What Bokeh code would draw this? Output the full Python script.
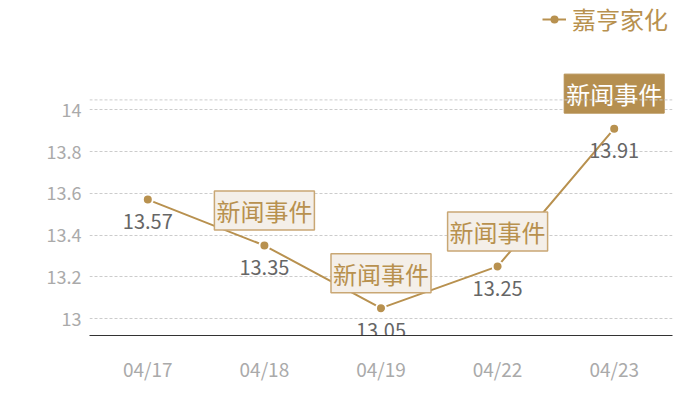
from bokeh.plotting import figure
from bokeh.models import Span, Legend, LegendItem, ColumnDataSource, FixedTicker, NumeralTickFormatter
from bokeh.core.properties import value
from bokeh.embed import file_html
from bokeh.resources import INLINE

dates = ["04/17", "04/18", "04/19", "04/22", "04/23"]
prices = [13.57, 13.35, 13.05, 13.25, 13.91]
price_labels = ["13.57", "13.35", "13.05", "13.25", "13.91"]
event_dates = ["04/18", "04/19", "04/22"]
event_prices = [13.35, 13.05, 13.25]
highlight_dates = ["04/23"]
highlight_prices = [13.91]
event_label = "新闻事件"
y_ticks = [13, 13.2, 13.4, 13.6, 13.8, 14]
y_axis_max = 14.0476
series_name = "嘉亨家化"

GOLD = "#b8914f"
FONT = "Noto Sans CJK SC"

p = figure(width=684, height=384, x_range=dates, y_range=(12.919, 14.5238),
           output_backend="svg", toolbar_location=None,
           min_border_left=89, min_border_right=12, min_border_top=0, min_border_bottom=47)
p.outline_line_color = None
p.background_fill_color = "white"
p.border_fill_color = "white"

p.xgrid.grid_line_color = None
p.ygrid.grid_line_color = "#cccccc"
p.ygrid.grid_line_dash = "3 2"
p.ygrid.grid_line_width = 1

top_line = Span(location=y_axis_max, dimension="width", line_color="#cccccc",
                line_dash="3 2", line_width=1)
p.add_layout(top_line)

p.yaxis.ticker = FixedTicker(ticks=y_ticks)
p.yaxis.formatter = NumeralTickFormatter(format="0.[0]")
p.yaxis.axis_line_color = None
p.yaxis.major_tick_line_color = None
p.yaxis.minor_tick_line_color = None
p.yaxis.major_tick_out = 0
p.yaxis.major_tick_in = 0
p.yaxis.minor_tick_out = 0
p.yaxis.major_label_text_color = "#aaaaaa"
p.yaxis.major_label_text_font = FONT
p.yaxis.major_label_text_font_size = "18px"
p.yaxis.major_label_standoff = 8

p.xaxis.axis_line_color = "#333333"
p.xaxis.axis_line_width = 1
p.xaxis.major_tick_line_color = None
p.xaxis.minor_tick_line_color = None
p.xaxis.major_tick_out = 0
p.xaxis.major_tick_in = 0
p.xaxis.major_label_text_color = "#aaaaaa"
p.xaxis.major_label_text_font = FONT
p.xaxis.major_label_text_font_size = "19px"
p.xaxis.major_label_standoff = 19

src = ColumnDataSource(dict(x=dates, y=prices, t=price_labels))
ln = p.line("x", "y", source=src, line_color=GOLD, line_width=2)
# solid dot (used for the legend); covered at the data points by the ringed marker
legend_dot = p.scatter("x", "y", source=src, size=9, fill_color=GOLD, line_color=None)
pts = p.scatter("x", "y", source=src, size=10, fill_color=GOLD, line_color="white", line_width=2)

p.text("x", "y", text="t", source=src, text_align="center", text_baseline="middle",
       y_offset=22, text_color="#666666", text_font=value(FONT), text_font_size="20px")

ev = ColumnDataSource(dict(x=event_dates, y=event_prices, t=[event_label] * len(event_dates)))
p.text("x", "y", text="t", source=ev, text_align="center", text_baseline="middle",
       y_offset=-35, text_color=GOLD, text_font=value(FONT), text_font_size="24px",
       background_fill_color="#f4efe9", border_line_color="#c9a774", border_line_width=1.5,
       padding=2)

hv = ColumnDataSource(dict(x=highlight_dates, y=highlight_prices, t=[event_label] * len(highlight_dates)))
p.text("x", "y", text="t", source=hv, text_align="center", text_baseline="middle",
       y_offset=-35, text_color="white", text_font=value(FONT), text_font_size="24px",
       background_fill_color="#b58f50", border_line_color="#b58f50", border_line_width=1,
       padding=2)

legend = Legend(items=[LegendItem(label=series_name, renderers=[ln, legend_dot])],
                location=(453, 299), orientation="horizontal",
                label_text_font=FONT, label_text_font_size="24px", label_text_color=GOLD,
                glyph_width=24, glyph_height=20, label_height=20, label_standoff=6,
                padding=0, margin=0, border_line_color=None, background_fill_alpha=0)
p.add_layout(legend, "center")

open("out.html", "w").write(file_html(p, INLINE))
